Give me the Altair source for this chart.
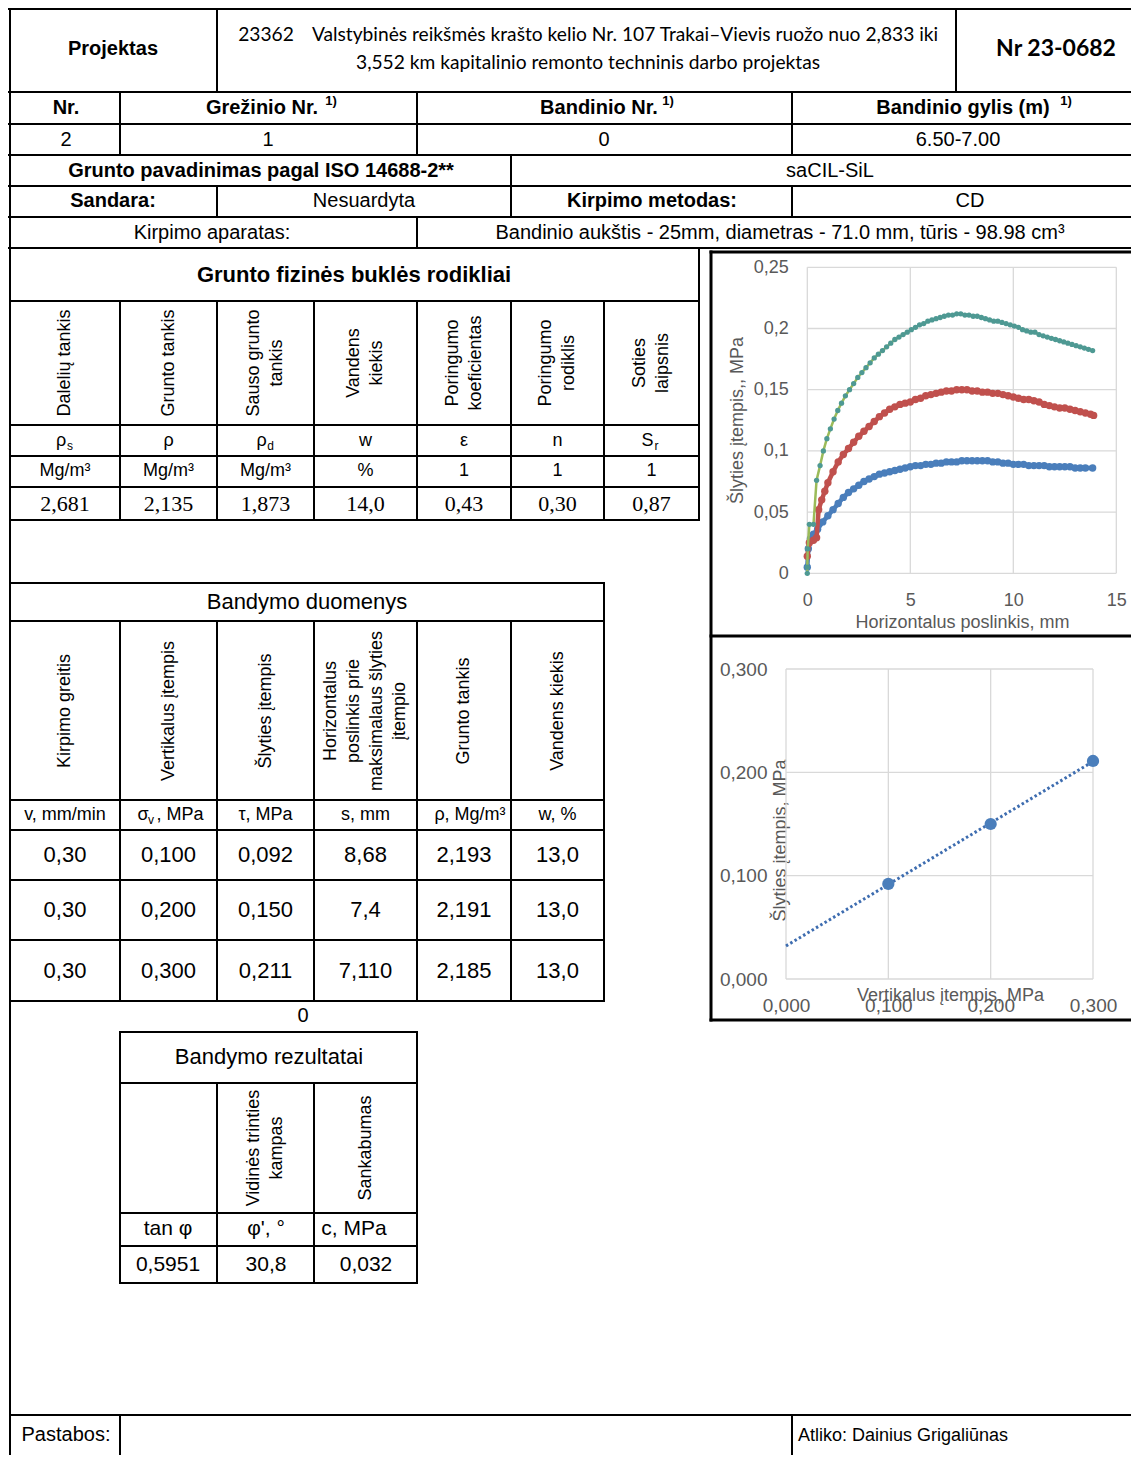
import altair as alt
import pandas as pd

# ---------------- chart 1: horizontal displacement (mm) vs shear stress (MPa) -------------
# sigma = 0.300 MPa (green line, teal markers)
g_x = [0.00, 0.00, 0.02, 0.10, 0.30, 0.45, 0.62, 0.78, 0.95, 1.12, 1.30, 1.48, 1.66, 1.85,
       2.05, 2.25, 2.45, 2.65, 2.85, 3.05, 3.25, 3.45, 3.65, 3.85, 4.05, 4.25, 4.45, 4.65,
       4.85, 5.05, 5.25, 5.45, 5.65, 5.85, 6.05, 6.25, 6.45, 6.65, 6.85, 7.05, 7.25, 7.45,
       7.65, 7.85, 8.05, 8.25, 8.45, 8.65, 8.85, 9.05, 9.25, 9.45, 9.65, 9.85, 10.05, 10.25,
       10.45, 10.65, 10.85, 11.05, 11.25, 11.45, 11.65, 11.85, 12.05, 12.25, 12.45, 12.65,
       12.85, 13.05, 13.25, 13.45, 13.65, 13.85]
g_y = [0.000, 0.005, 0.020, 0.040, 0.040, 0.076, 0.088, 0.100, 0.110, 0.118, 0.126, 0.133,
       0.139, 0.145, 0.150, 0.155, 0.160, 0.164, 0.168, 0.172, 0.176, 0.179, 0.182, 0.185,
       0.188, 0.191, 0.193, 0.195, 0.197, 0.199, 0.201, 0.203, 0.204, 0.206, 0.207, 0.208,
       0.209, 0.210, 0.211, 0.211, 0.212, 0.212, 0.211, 0.211, 0.210, 0.210, 0.209, 0.208,
       0.207, 0.206, 0.206, 0.205, 0.204, 0.203, 0.202, 0.201, 0.199, 0.198, 0.197, 0.197,
       0.195, 0.194, 0.193, 0.192, 0.191, 0.190, 0.189, 0.188, 0.187, 0.186, 0.185, 0.184,
       0.183, 0.182]
# sigma = 0.200 MPa (red)
r_x = [0.00, 0.10, 0.30, 0.45, 0.55, 0.70, 0.85, 1.00, 1.25, 1.50, 1.75, 2.00, 2.25, 2.50,
       2.75, 3.00, 3.25, 3.50, 3.75, 4.00, 4.25, 4.50, 4.75, 5.00, 5.25, 5.50, 5.75, 6.00,
       6.25, 6.50, 6.75, 7.00, 7.25, 7.50, 7.75, 8.00, 8.25, 8.50, 8.75, 9.00, 9.25, 9.50,
       9.75, 10.00, 10.25, 10.50, 10.75, 11.00, 11.25, 11.50, 11.75, 12.00, 12.25, 12.50,
       12.75, 13.00, 13.25, 13.50, 13.75, 13.90]
r_y = [0.014, 0.025, 0.027, 0.029, 0.052, 0.060, 0.067, 0.074, 0.083, 0.091, 0.097, 0.102,
       0.107, 0.112, 0.116, 0.120, 0.124, 0.128, 0.131, 0.134, 0.136, 0.138, 0.139, 0.140,
       0.142, 0.143, 0.145, 0.146, 0.147, 0.148, 0.149, 0.149, 0.150, 0.150, 0.150, 0.149,
       0.149, 0.148, 0.148, 0.147, 0.147, 0.146, 0.145, 0.144, 0.143, 0.142, 0.142, 0.141,
       0.140, 0.138, 0.137, 0.136, 0.135, 0.135, 0.134, 0.133, 0.132, 0.131, 0.130, 0.129]
# sigma = 0.100 MPa (blue)
b_x = [0.00, 0.05, 0.15, 0.30, 0.50, 0.75, 1.00, 1.25, 1.50, 1.75, 2.00, 2.25, 2.50, 2.75,
       3.00, 3.25, 3.50, 3.75, 4.00, 4.25, 4.50, 4.75, 5.00, 5.25, 5.50, 5.75, 6.00, 6.25,
       6.50, 6.75, 7.00, 7.25, 7.50, 7.75, 8.00, 8.25, 8.50, 8.75, 9.00, 9.25, 9.50, 9.75,
       10.00, 10.25, 10.50, 10.75, 11.00, 11.25, 11.50, 11.75, 12.00, 12.25, 12.50, 12.75,
       13.00, 13.25, 13.50, 13.85]
b_y = [0.005, 0.020, 0.028, 0.032, 0.036, 0.042, 0.047, 0.052, 0.057, 0.062, 0.066, 0.069,
       0.072, 0.075, 0.077, 0.079, 0.081, 0.082, 0.083, 0.084, 0.085, 0.086, 0.087, 0.088,
       0.088, 0.089, 0.089, 0.090, 0.090, 0.091, 0.091, 0.091, 0.092, 0.092, 0.092, 0.092,
       0.092, 0.092, 0.091, 0.091, 0.090, 0.090, 0.089, 0.089, 0.089, 0.088, 0.088, 0.088,
       0.088, 0.087, 0.087, 0.087, 0.087, 0.087, 0.086, 0.086, 0.086, 0.086]
c1_xticks = [0, 5, 10, 15]
c1_yticks = [0, 0.05, 0.1, 0.15, 0.2, 0.25]

# ---------------- chart 2: vertical stress vs max shear stress ----------------
sigma_v = [0.100, 0.200, 0.300]
tau_max = [0.092, 0.150, 0.211]
c2_ticks = [0, 0.1, 0.2, 0.3]

# ---------------- form texts ----------------
project_label = "Projektas"
project_code = "23362"
project_line1 = "Valstybinės reikšmės krašto kelio Nr. 107 Trakai–Vievis ruožo nuo 2,833 iki"
project_line2 = "3,552 km kapitalinio remonto techninis darbo projektas"
report_no = "Nr 23-0682"
id_headers = ["Nr.", "Grežinio Nr.", "Bandinio Nr.", "Bandinio gylis (m)"]
id_values = ["2", "1", "0", "6.50-7.00"]
soil_label = "Grunto pavadinimas pagal ISO 14688-2**"
soil_name = "saCIL-SiL"
structure_label = "Sandara:"
structure_value = "Nesuardyta"
method_label = "Kirpimo metodas:"
method_value = "CD"
apparatus_label = "Kirpimo aparatas:"
apparatus_value = "Bandinio aukštis - 25mm, diametras - 71.0 mm, tūris - 98.98 cm³"

phys_title = "Grunto fizinės buklės rodikliai"
phys_headers = [["Dalelių tankis"], ["Grunto tankis"], ["Sauso grunto", "tankis"],
                ["Vandens", "kiekis"], ["Poringumo", "koeficientas"], ["Poringumo", "rodiklis"],
                ["Soties", "laipsnis"]]
phys_symbols = [("ρ", "s"), ("ρ", ""), ("ρ", "d"), ("w", ""), ("ε", ""), ("n", ""), ("S", "r")]
phys_units = ["Mg/m³", "Mg/m³", "Mg/m³", "%", "1", "1", "1"]
phys_values = ["2,681", "2,135", "1,873", "14,0", "0,43", "0,30", "0,87"]

test_title = "Bandymo duomenys"
test_headers = [["Kirpimo greitis"], ["Vertikalus įtempis"], ["Šlyties įtempis"],
                ["Horizontalus", "poslinkis prie", "maksimalaus šlyties", "įtempio"],
                ["Grunto tankis"], ["Vandens kiekis"]]
test_units = ["v, mm/min", None, "τ, MPa", "s, mm", "ρ, Mg/m³", "w, %"]
test_rows = [["0,30", "0,100", "0,092", "8,68", "2,193", "13,0"],
             ["0,30", "0,200", "0,150", "7,4", "2,191", "13,0"],
             ["0,30", "0,300", "0,211", "7,110", "2,185", "13,0"]]
zero_note = "0"

result_title = "Bandymo rezultatai"
result_headers = [[], ["Vidinės trinties", "kampas"], ["Sankabumas"]]
result_symbols = ["tan φ", "φ', °", "c, MPa"]
result_values = ["0,5951", "30,8", "0,032"]

remarks_label = "Pastabos:"
performed_by = "Atliko: Dainius Grigaliūnas"

c1_title_x = "Horizontalus poslinkis, mm"
c1_title_y = "Šlyties įtempis,, MPa"
c2_title_x = "Vertikalus įtempis, MPa"
c2_title_y = "Šlyties įtempis, MPa"

# ---------------- layout (page pixels) ----------------
W = 1123   # drawing width  (page x 8 .. 1131)
H = 1447   # drawing height (page y 8 .. 1455)

lines = []


def hl(y, x1, x2, w=2):
    lines.append(dict(x=x1, x2=x2, y=y, y2=y, w=w))


def vl(x, y1, y2, w=2):
    lines.append(dict(x=x, x2=x, y=y1, y2=y2, w=w))


RIGHT = 8 + W
BOTTOM = 8 + H
for yy in [9, 92, 124, 155, 186, 217, 248]:
    hl(yy, 9, RIGHT)
vl(10, 8, BOTTOM)
vl(217, 9, 92)
vl(956, 9, 92)
for xx in [120, 417, 792]:
    vl(xx, 92, 155)
vl(511, 155, 217)
vl(217, 186, 217)
vl(792, 186, 217)
vl(417, 217, 248)

phys_cols = [10, 120, 217, 314, 417, 511, 604, 699]
for yy in [301, 425, 456, 487, 520]:
    hl(yy, 10, 699)
for xx in phys_cols[1:-1]:
    vl(xx, 301, 520)
vl(699, 248, 520)

test_cols = [10, 120, 217, 314, 417, 511, 604]
for yy in [583, 621, 800, 830, 880, 940, 1001]:
    hl(yy, 10, 604)
for xx in test_cols[1:-1]:
    vl(xx, 621, 1001)
vl(604, 583, 1001)

res_cols = [120, 217, 314, 417]
for yy in [1032, 1083, 1213, 1246, 1283]:
    hl(yy, 120, 417)
vl(120, 1032, 1283)
vl(417, 1032, 1283)
vl(217, 1083, 1283)
vl(314, 1083, 1283)

hl(252, 711, RIGHT, 3)
hl(636, 711, RIGHT, 3)
hl(1020, 711, RIGHT, 3)
vl(711, 252, 1020, 3)

hl(1415, 10, RIGHT)
vl(120, 1415, BOTTOM)
vl(792, 1415, BOTTOM)

texts = []


def tx(x, y, t, s=20, a=0, st="sans"):
    texts.append(dict(x=x, y=y, t=t, s=s, a=a, st=st))


def centers(cols):
    return [(cols[i] + cols[i + 1]) / 2 for i in range(len(cols) - 1)]


def rotated(cx, cy, parts, s=18, gap=23):
    n = len(parts)
    for k, p in enumerate(parts):
        tx(cx + (k - (n - 1) / 2) * gap, cy, p, s, 270)


# header
tx(113, 49, project_label, 20, 0, "sansb")
tx(266, 35, project_code, 19.2, 0, "lato")
tx(625, 35, project_line1, 19.2, 0, "lato")
tx(588, 63, project_line2, 19.2, 0, "lato")
tx(1056, 49, report_no, 23, 0, "latob")
hdr_x = [66, 262, 599, 963]
sup_x = [None, 331, 668, 1066]
for hx, sx, h in zip(hdr_x, sup_x, id_headers):
    tx(hx, 108, h, 20, 0, "sansb")
    if sx:
        tx(sx, 101, "1)", 13, 0, "sansb")
for vx, v in zip([66, 268, 604, 958], id_values):
    tx(vx, 140, v, 20)
tx(261, 171, soil_label, 20, 0, "sansb")
tx(830, 171, soil_name, 20)
tx(113, 201, structure_label, 20, 0, "sansb")
tx(364, 201, structure_value, 20)
tx(652, 201, method_label, 20, 0, "sansb")
tx(970, 201, method_value, 20)
tx(212, 233, apparatus_label, 20)
tx(780, 233, apparatus_value, 20)

# table 1
tx(354, 275, phys_title, 22, 0, "sansb")
for cx, hdr, sym, unit, val in zip(centers(phys_cols), phys_headers, phys_symbols,
                                   phys_units, phys_values):
    rotated(cx, 363, hdr)
    if sym[1]:
        tx(cx - 4, 441, sym[0], 18)
        tx(cx + 5, 446, sym[1], 12)
    else:
        tx(cx, 441, sym[0], 18)
    tx(cx, 471, unit, 18)
    tx(cx, 504, val, 22, 0, "serif")

# table 2
tx(307, 602, test_title, 22)
tc = centers(test_cols)
for i, (cx, hdr) in enumerate(zip(tc, test_headers)):
    rotated(cx, 711, hdr)
    if test_units[i] is not None:
        tx(cx if i != 4 else 470, 815, test_units[i], 18)
tx(143, 815, "σ", 18)
tx(151, 820, "v", 12)
tx(180, 815, ", MPa", 18)
for ry, row in zip([855, 910, 971], test_rows):
    for cx, v in zip(tc, row):
        tx(cx, ry, v, 22)
tx(303, 1016, zero_note, 20)

# table 3
tx(269, 1057, result_title, 22)
rc = centers(res_cols)
for cx, hdr in zip(rc, result_headers):
    if hdr:
        rotated(cx, 1148, hdr)
for cx, sym in zip([168, 266, 354], result_symbols):
    tx(cx, 1229, sym, 21)
for cx, v in zip([168, 266, 366], result_values):
    tx(cx, 1265, v, 21)

# footer
tx(66, 1435, remarks_label, 20)
tx(903, 1436, performed_by, 18)

lines_df = pd.DataFrame(lines)
texts_df = pd.DataFrame(texts)

FX = alt.Scale(domain=[8, 8 + W], range=[0, W], nice=False, zero=False)
FY = alt.Scale(domain=[8, 8 + H], range=[0, H], nice=False, zero=False)

rules = alt.Chart(lines_df).mark_rule(color="black", strokeCap="square").encode(
    x=alt.X("x:Q", scale=FX, axis=None),
    x2="x2:Q",
    y=alt.Y("y:Q", scale=FY, axis=None),
    y2="y2:Q",
    strokeWidth=alt.StrokeWidth("w:Q", scale=None),
)

fonts = {"sans": ("Liberation Sans", "normal"), "sansb": ("Liberation Sans", "bold"),
         "serif": ("Liberation Serif", "normal"), "lato": ("Lato", "normal"),
         "latob": ("Lato", "bold")}
text_layers = []
for key, (fnt, wt) in fonts.items():
    sub = texts_df[texts_df.st == key]
    if len(sub) == 0:
        continue
    text_layers.append(
        alt.Chart(sub).mark_text(font=fnt, fontWeight=wt, align="center", baseline="middle",
                                 color="black").encode(
            x=alt.X("x:Q", scale=FX, axis=None),
            y=alt.Y("y:Q", scale=FY, axis=None),
            text="t:N",
            size=alt.Size("s:Q", scale=None),
            angle=alt.Angle("a:Q", scale=None),
        )
    )
form = alt.layer(rules, *text_layers)

# ---------------- chart 1 ----------------
GRAY = "#595959"
GRID = "#d9d9d9"
C1_X0, C1_X1, C1_Y0, C1_Y1 = 799.3, 1108.3, 565.3, 259.3   # plot area inside drawing
SC1X = alt.Scale(domain=[c1_xticks[0], c1_xticks[-1]], range=[C1_X0, C1_X1], nice=False, zero=False)
SC1Y = alt.Scale(domain=[c1_yticks[0], c1_yticks[-1]], range=[C1_Y0, C1_Y1], nice=False, zero=False)
AX1X = alt.Axis(orient="bottom", offset=C1_Y0 - H, values=c1_xticks, grid=False, domain=False,
                ticks=False, labelFont="Liberation Sans", labelFontSize=18, labelColor=GRAY,
                labelPadding=18, labelFlush=False, labelOverlap=False, labelBaseline="top",
                title=c1_title_x, titleFont="Liberation Sans", titleFontSize=18,
                titleFontWeight="normal", titleColor=GRAY, titleX=954, titleY=49,
                titleAlign="center", titleBaseline="middle")
AX1Y = alt.Axis(orient="left", offset=-C1_X0, values=c1_yticks, grid=False, domain=False,
                ticks=False, labelFont="Liberation Sans", labelFontSize=18, labelColor=GRAY,
                labelPadding=19, labelFlush=False, labelOverlap=False,
                labelExpr="replace(format(datum.value, '~g'), '.', ',')",
                title=c1_title_y, titleFont="Liberation Sans", titleFontSize=18,
                titleFontWeight="normal", titleColor=GRAY, titleAngle=270, titleX=-70,
                titleY=412, titleAlign="center", titleBaseline="middle")

grid1 = [dict(gx=t, gx2=t, gy=c1_yticks[0], gy2=c1_yticks[-1]) for t in c1_xticks] + \
        [dict(gx=c1_xticks[0], gx2=c1_xticks[-1], gy=t, gy2=t) for t in c1_yticks]
grid1_df = pd.DataFrame(grid1)

curves = []
for name, xs, ys in [("0,100", b_x, b_y), ("0,200", r_x, r_y), ("0,300", g_x, g_y)]:
    for i, (a, b) in enumerate(zip(xs, ys)):
        curves.append(dict(series=name, i=i, gx=a, gy=b))
curves_df = pd.DataFrame(curves)


def enc1():
    return dict(x=alt.X("gx:Q", scale=SC1X, axis=AX1X), y=alt.Y("gy:Q", scale=SC1Y, axis=AX1Y))


g1 = alt.Chart(grid1_df).mark_rule(color=GRID, strokeWidth=1.3).encode(
    x2="gx2:Q", y2="gy2:Q", **enc1())
c1_layers = [g1]
styles = {"0,100": ("#4a7ebb", "#4a7ebb", 4.5, 55),
          "0,200": ("#c0504d", "#c0504d", 4.5, 55),
          "0,300": ("#9bbb59", "#4e9993", 2.5, 28)}
for name, (lc, pc, lw, ps) in styles.items():
    base = alt.Chart(curves_df).transform_filter(alt.datum.series == name)
    c1_layers.append(base.mark_line(color=lc, strokeWidth=lw).encode(order="i:Q", **enc1()))
    c1_layers.append(base.mark_circle(color=pc, size=ps, opacity=1).encode(**enc1()))
chart1 = alt.layer(*c1_layers)

# ---------------- chart 2 ----------------
C2_X0, C2_X1, C2_Y0, C2_Y1 = 778, 1085, 971, 661
SC2X = alt.Scale(domain=[c2_ticks[0], c2_ticks[-1]], range=[C2_X0, C2_X1], nice=False, zero=False)
SC2Y = alt.Scale(domain=[c2_ticks[0], c2_ticks[-1]], range=[C2_Y0, C2_Y1], nice=False, zero=False)
AX2X = alt.Axis(orient="bottom", offset=C2_Y0 - H, values=c2_ticks, grid=False, domain=False,
                ticks=False, labelFont="Liberation Sans", labelFontSize=19, labelColor=GRAY,
                labelPadding=17, labelFlush=False, labelOverlap=False, labelBaseline="top",
                labelExpr="replace(format(datum.value, '.3f'), '.', ',')",
                title=c2_title_x, titleFont="Liberation Sans", titleFontSize=18,
                titleFontWeight="normal", titleColor=GRAY, titleX=942, titleY=16,
                titleAlign="center", titleBaseline="middle")
AX2Y = alt.Axis(orient="left", offset=-C2_X0, values=c2_ticks, grid=False, domain=False,
                ticks=False, labelFont="Liberation Sans", labelFontSize=19, labelColor=GRAY,
                labelPadding=19, labelFlush=False, labelOverlap=False,
                labelExpr="replace(format(datum.value, '.3f'), '.', ',')",
                title=c2_title_y, titleFont="Liberation Sans", titleFontSize=18,
                titleFontWeight="normal", titleColor=GRAY, titleAngle=270, titleX=-6,
                titleY=832, titleAlign="center", titleBaseline="middle")

grid2 = [dict(sv=t, sv2=t, tau=c2_ticks[0], tau2=c2_ticks[-1]) for t in c2_ticks] + \
        [dict(sv=c2_ticks[0], sv2=c2_ticks[-1], tau=t, tau2=t) for t in c2_ticks]
grid2_df = pd.DataFrame(grid2)
pts2_df = pd.DataFrame(dict(sv=sigma_v, tau=tau_max))


def enc2():
    return dict(x=alt.X("sv:Q", scale=SC2X, axis=AX2X), y=alt.Y("tau:Q", scale=SC2Y, axis=AX2Y))


g2 = alt.Chart(grid2_df).mark_rule(color=GRID, strokeWidth=1.3).encode(
    x2="sv2:Q", y2="tau2:Q", **enc2())
trend = alt.Chart(pts2_df).transform_regression(
    "sv", "tau", extent=[c2_ticks[0], c2_ticks[-1]]).mark_line(
    color="#3e6db0", strokeWidth=3, strokeDash=[2.5, 2.5]).encode(**enc2())
pts2 = alt.Chart(pts2_df).mark_circle(color="#4a7ebb", size=150, opacity=1).encode(**enc2())
chart2 = alt.layer(g2, trend, pts2)

chart = alt.layer(form, chart1, chart2).resolve_scale(
    x="independent", y="independent"
).properties(
    width=W, height=H, padding=0, autosize=alt.AutoSizeParams(type="none")
).configure_view(stroke=None)

chart.save("out.html", embed_options={"renderer": "svg", "actions": False})
